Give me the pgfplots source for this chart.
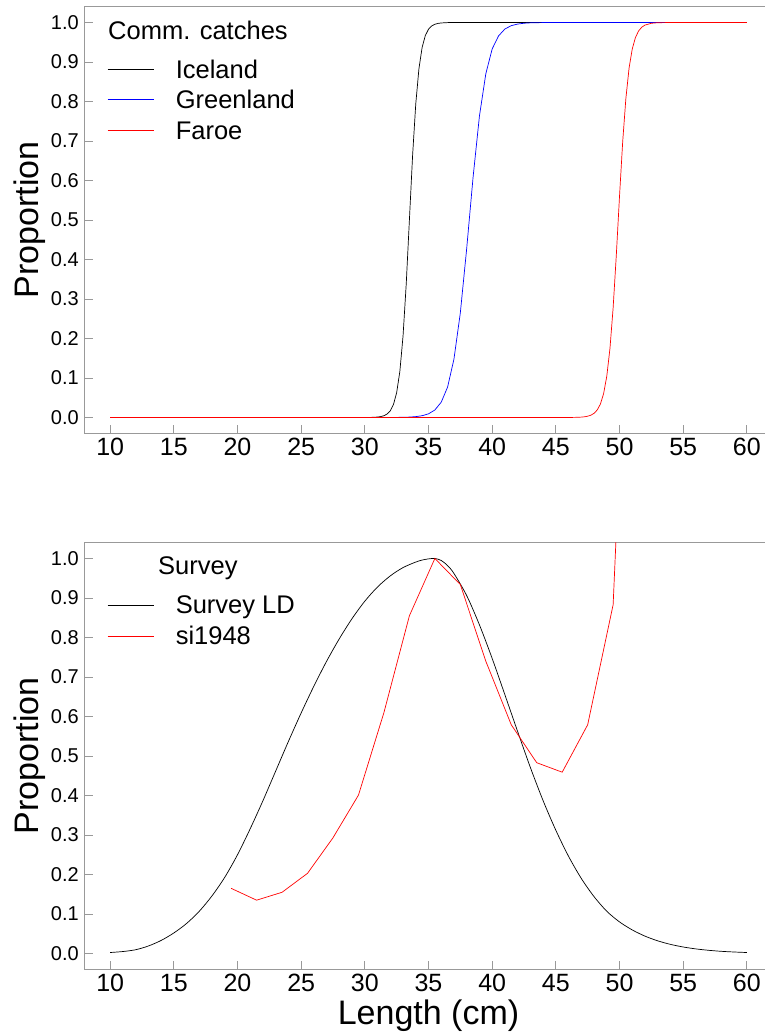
\documentclass[border=0pt]{standalone}
\usepackage{fontspec}
\setmainfont{Liberation Sans}
\usepackage{pgfplots}
\pgfplotsset{compat=1.18}
\definecolor{framegray}{gray}{0.6}
\tikzset{legtext/.style={anchor=base west, inner sep=0pt, font=\fontsize{25.5}{30}\selectfont}}
\pgfplotsset{
  myaxis/.style={
    scale only axis, width=687.6pt, height=426.6pt,
    xmin=8, xmax=62, ymin=-0.04, ymax=1.04,
    axis line style={framegray, line width=0.8pt},
    tick style={framegray, line width=0.8pt},
    tick align=inside, major tick length=8pt,
    tick pos=left,
    xtick={10,15,20,25,30,35,40,45,50,55,60},
    ytick={0,0.1,0.2,0.3,0.4,0.5,0.6,0.7,0.8,0.9,1.0},
    /pgf/number format/assume math mode=true,
    yticklabel style={anchor=east, inner sep=0pt, xshift=-5.7pt,
      font=\fontsize{20}{22}\selectfont,
      /pgf/number format/fixed, /pgf/number format/fixed zerofill,
      /pgf/number format/precision=1},
    xticklabel style={anchor=north, inner sep=0pt, yshift=-5pt,
      font=\fontsize{25}{28}\selectfont},
    ylabel={Proportion},
    ylabel style={at={(axis description cs:-0.0672,0.5)}, anchor=base,
      inner sep=0pt, font=\fontsize{34}{40}\selectfont},
  },
}
\begin{document}
\begin{tikzpicture}
\useasboundingbox (0pt,0pt) rectangle (764pt,1036pt);
% ---------- top panel ----------
\begin{axis}[myaxis, at={(84.7pt,602.7pt)}, anchor=south west]
\addplot[black, line width=0.7pt] table {
x y
10 0
28 0
30 0.0001
30.5 0.0003
31 0.00117
31.25 0.00229
31.5 0.0045
31.75 0.00879
32 0.0171
32.25 0.0331
32.5 0.0630
32.75 0.1166
33 0.2059
33.25 0.3374
33.5 0.5
33.75 0.6626
34 0.7941
34.25 0.8834
34.5 0.9370
34.75 0.9669
35 0.9829
35.25 0.9912
35.5 0.9955
35.75 0.9977
36 0.9988
36.5 0.9997
37 1
60 1
};
\addplot[blue, line width=0.7pt] table {
x y
10 0
30 0
32 0.0001
33 0.0005
33.5 0.00105
34 0.00217
34.5 0.00449
35 0.00927
35.5 0.0190
36 0.0387
36.5 0.0771
37 0.148
37.5 0.265
38 0.428
38.5 0.608
39 0.763
39.5 0.870
40 0.933
40.5 0.966
41 0.9835
41.5 0.992
42 0.996
42.5 0.9981
43 0.9991
44 0.9998
45 1
60 1
};
\addplot[red, line width=0.7pt] table {
x y
10 0
45 0
46 0.0001
46.5 0.0003
47 0.00098
47.25 0.00177
47.5 0.00322
47.75 0.00583
48 0.01055
48.25 0.0190
48.5 0.0340
48.75 0.0602
49 0.1042
49.25 0.1746
49.5 0.2777
49.75 0.4113
50 0.5595
50.25 0.6978
50.5 0.8075
50.75 0.8841
51 0.9327
51.25 0.9618
51.5 0.9786
51.75 0.9881
52 0.9934
52.5 0.9980
53 0.9994
54 0.99995
60 1
};
% legend
\node[legtext] at (axis description cs:0.0339,0.9236) {Comm. catches};
\draw[black, line width=0.8pt] (axis description cs:0.0332,0.8521) -- ++(46pt,0pt);
\draw[blue, line width=0.8pt] (axis description cs:0.0332,0.7817) -- ++(46pt,0pt);
\draw[red, line width=0.8pt] (axis description cs:0.0332,0.7110) -- ++(46pt,0pt);
\node[legtext] at (axis description cs:0.1322,0.8312) {Iceland};
\node[legtext] at (axis description cs:0.1322,0.7609) {Greenland};
\node[legtext] at (axis description cs:0.1322,0.6892) {Faroe};
\end{axis}
% ---------- bottom panel ----------
\begin{axis}[myaxis, at={(84.7pt,66.7pt)}, anchor=south west,
  xlabel={Length (cm)},
  xlabel style={at={(axis description cs:0.5,0)}, anchor=base, yshift=-54.7pt,
    inner sep=0pt, font=\fontsize{34}{40}\selectfont}]
\addplot[black, line width=0.7pt, smooth] table {
x y
10 0.0025
11 0.005
12 0.0095
13 0.019
14 0.033
15 0.052
16 0.076
17 0.107
18 0.146
19 0.193
20 0.250
21 0.316
22 0.387
23 0.462
24 0.537
25 0.609
26 0.677
27 0.740
28 0.797
29 0.848
30 0.892
31 0.928
32 0.956
33 0.977
34 0.991
34.5 0.996
35 0.999
35.5 1.0
36 0.995
36.5 0.982
37 0.962
38 0.906
39 0.832
40 0.747
41 0.655
42 0.562
43 0.471
44 0.387
45 0.312
46 0.246
47 0.190
48 0.144
49 0.107
50 0.080
51 0.0597
52 0.0440
53 0.0321
54 0.0231
55 0.0165
56 0.0116
57 0.0081
58 0.0055
59 0.0038
60 0.0025
};
\addplot[red, line width=0.7pt] table {
x y
19.5 0.165
21.5 0.135
23.5 0.155
25.5 0.203
27.5 0.293
29.5 0.401
31.5 0.61
33.5 0.855
35.5 1.0
37.5 0.934
39.5 0.740
41.5 0.579
43.5 0.483
45.5 0.459
47.5 0.579
49.5 0.883
51.5 2.35
};
% legend
\node[legtext] at (axis description cs:0.1066,0.9266) {Survey};
\draw[black, line width=0.8pt] (axis description cs:0.0332,0.8540) -- ++(46pt,0pt);
\draw[red, line width=0.8pt] (axis description cs:0.0332,0.7813) -- ++(46pt,0pt);
\node[legtext] at (axis description cs:0.1322,0.8345) {Survey LD};
\node[legtext] at (axis description cs:0.1322,0.7602) {si1948};
\end{axis}
\end{tikzpicture}
\end{document}
